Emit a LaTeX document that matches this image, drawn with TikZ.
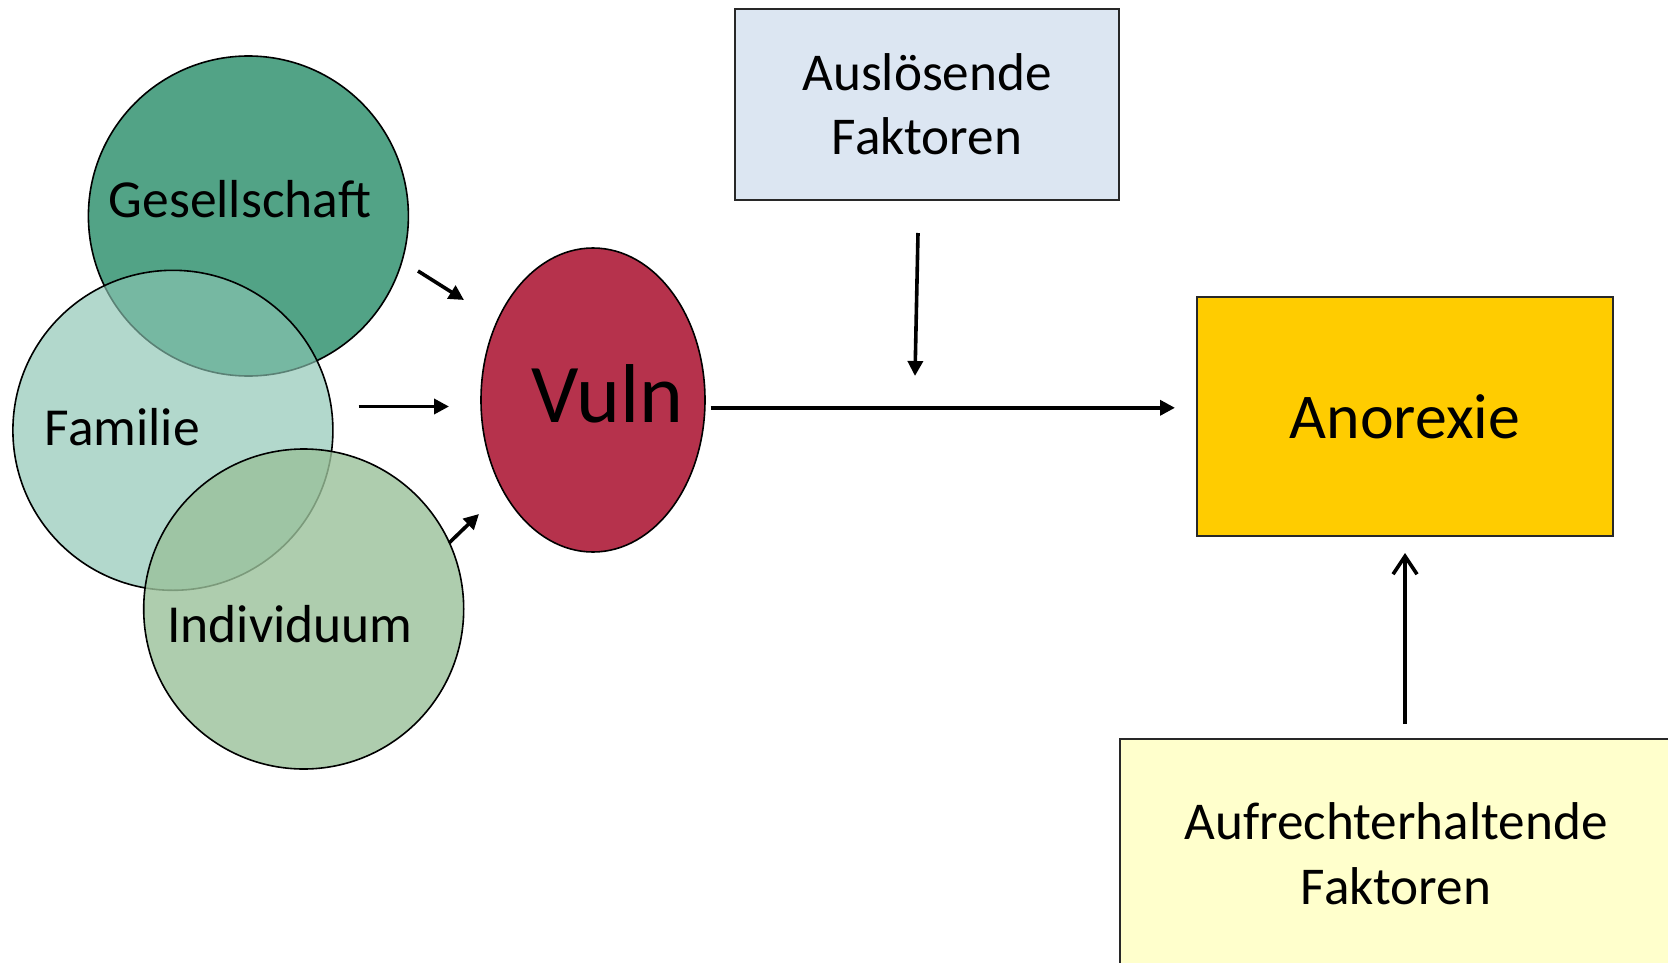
\documentclass[tikz,border=0pt]{standalone}
\usepackage{fontspec}
\setmainfont{Carlito}
\usetikzlibrary{arrows.meta,shapes.geometric}

\definecolor{gesC}{RGB}{82,163,134}
\definecolor{famC}{RGB}{138,196,178}
\definecolor{indC}{RGB}{154,193,154}
\definecolor{vulnC}{RGB}{182,50,76}
\definecolor{ausC}{RGB}{220,230,242}
\definecolor{anoC}{RGB}{255,204,0}
\definecolor{aufC}{RGB}{255,255,204}
\definecolor{edgeC}{RGB}{40,40,40}

\tikzset{
  ring/.style={circle, draw=black, line width=1.6pt, minimum size=320pt, inner sep=0pt},
  lbl/.style={inner sep=0pt, anchor=base west, font=\fontsize{53.5}{64}\selectfont},
  panel/.style={draw=edgeC, line width=2pt, align=center, inner sep=0pt,
                font=\fontsize{53.2}{64.5}\selectfont},
  flow/.style={line width=3.6pt, -{Triangle[length=15pt,width=15pt]}},
  openflow/.style={line width=3.6pt, -{Straight Barb[length=18pt,width=24pt,line width=3.6pt]}}
}

\begin{document}
\begin{tikzpicture}[x=1pt,y=-1pt]
\useasboundingbox (0,0) rectangle (1668,963);
\clip (0,0) rectangle (1668,963);

% three overlapping spheres of influence
\node[ring, fill=gesC] (ges) at (248.4,216) {};
\node[ring, fill=famC, fill opacity=0.66] (fam) at (172.9,430.3) {};
\node[ring, fill=indC, fill opacity=0.8] (ind) at (303.7,609) {};
\node[lbl] (gestext) at (108.5,217) {Gesellschaft};
\node[lbl] (famtext) at (44.7,445.7) {Familie};
\node[lbl] (indtext) at (167,642.5) {Individuum};

% vulnerability
\node[ellipse, draw=black, line width=1.6pt, fill=vulnC, minimum width=224pt,
      minimum height=304pt, inner sep=0pt] (vuln) at (593,400) {};
\node[inner sep=0pt, anchor=base west, font=\fontsize{83.5}{96}\selectfont] (vulntext) at (531,422) {Vuln};

% factor boxes
\node[panel, fill=ausC, minimum width=384pt, minimum height=191.5pt] (aus) at (927,104.3)
  {Auslösende\\Faktoren};
\node[panel, fill=anoC, minimum width=416pt, minimum height=239pt,
      font=\fontsize{63.8}{76}\selectfont] (ano) at (1405,416.5) {Anorexie};
\node[draw=edgeC, line width=2pt, fill=aufC, minimum width=600pt, minimum height=260pt,
      inner sep=0pt, anchor=north west] (auf) at (1119,738) {};
\node[align=center, inner sep=0pt, anchor=base, font=\fontsize{53.2}{64.5}\selectfont]
  (auftext) at (1396,904) {Aufrechterhaltende\\Faktoren};

% arrow end points
\coordinate (g1) at (418,271);
\coordinate (g2) at (464,300);
\coordinate (f1) at (358.5,406.5);
\coordinate (f2) at (449,406.5);
\coordinate (i1) at (449,543);
\coordinate (i2) at (479,514);
\coordinate (v1) at (710.6,407.8);
\coordinate (v2) at (1175,407.8);
\coordinate (a1) at (918,233);
\coordinate (a2) at (915,376);
\coordinate (u1) at (1405,724);
\coordinate (u2) at (1405,553);

\draw[flow] (g1) -- (g2);
\draw[flow] (f1) -- (f2);
\draw[flow] (i1) -- (i2);
\draw[flow] (v1) -- (v2);
\draw[flow] (a1) -- (a2);
\draw[openflow] (u1) -- (u2);
\end{tikzpicture}
\end{document}
